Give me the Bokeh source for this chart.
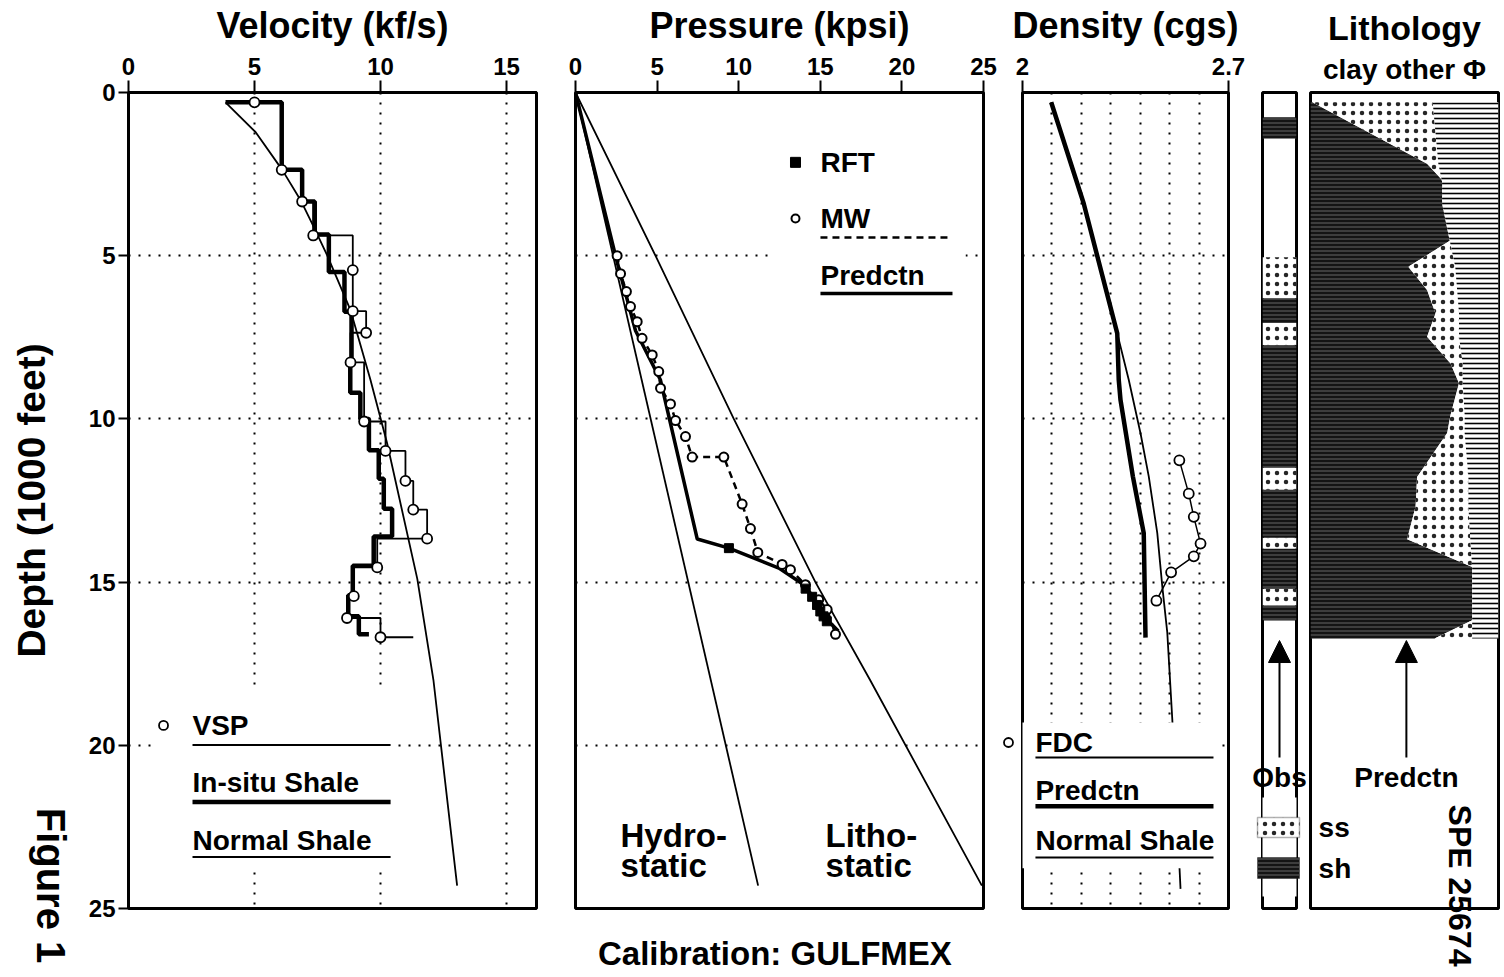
import math
from bokeh.plotting import figure
from bokeh.models import (Range1d, FixedTicker, Grid, Label, BoxAnnotation,
                          Arrow, NormalHead, LinearAxis)
from bokeh.layouts import row, column
from bokeh.embed import file_html
from bokeh.resources import INLINE

FONT = "Liberation Sans"

# ---------------- data (depth in 1000 ft) ----------------
# Velocity panel (kf/s)
normal_vel_depth = [0.3, 1.21, 2.37, 3.3, 4.12, 4.98, 6.67, 8.8, 10.74, 14.9, 18.0, 24.3]
normal_vel = [3.85, 5.04, 6.1, 6.83, 7.35, 7.88, 8.81, 9.6, 10.26, 11.46, 12.1, 13.04]
insitu_start_vel = 3.85
insitu_depth = [0.3, 2.37, 3.34, 4.35, 5.5, 6.72, 8.35, 9.2, 10.0, 10.96, 11.83, 12.75,
                13.6, 14.5, 15.4, 16.05, 16.6]
insitu_vel = [6.08, 6.89, 7.39, 7.95, 8.57, 8.85, 8.8, 9.2, 9.54, 9.93, 10.13, 10.46,
              9.73, 8.9, 8.72, 9.14, 9.54]
vsp_depth = [0.3, 2.37, 3.34, 4.38, 5.44, 6.7, 7.36, 8.27, 10.08, 10.98, 11.9, 12.78,
             13.67, 14.55, 15.43, 16.1, 16.69]
vsp_vel = [5.0, 6.08, 6.89, 7.33, 8.9, 8.9, 9.43, 8.81, 9.35, 10.2, 10.99, 11.3,
           11.85, 9.87, 8.94, 8.67, 10.0]
vsp_tail_vel = 11.3

# Pressure panel (kpsi)
hydro_depth = [0, 24.3]
hydro_p = [0, 11.19]
litho_depth = [0, 5, 10, 15, 18, 24.3]
litho_p = [0, 4.9, 9.7, 14.7, 18.05, 24.9]
pred_p_depth = [0, 5.0, 7.3, 8.8, 13.68, 13.96, 14.57, 15.08, 15.6, 16.15, 16.5]
pred_p = [0, 2.45, 3.68, 5.2, 7.46, 9.4, 12.46, 13.99, 14.8, 15.42, 16.1]
mw_depth = [5.0, 5.55, 6.1, 6.56, 7.02, 7.53, 8.04, 8.55, 9.06, 9.54, 10.05, 10.54,
            11.17, 11.17, 12.61, 13.36, 14.09, 14.46, 14.62, 15.08, 15.54, 15.84, 16.6]
mw_p = [2.55, 2.76, 3.12, 3.37, 3.78, 4.08, 4.7, 5.1, 5.21, 5.82, 6.13, 6.74,
        7.15, 9.09, 10.21, 10.72, 11.17, 12.66, 13.17, 14.09, 14.9, 15.42, 15.93]
rft_depth = [13.96, 15.2, 15.45, 15.7, 15.9, 16.05, 16.2]
rft_p = [9.4, 14.1, 14.5, 14.8, 15.0, 15.2, 15.4]

# Density panel (g/cc)
pred_rho_depth = [0.3, 3.4, 7.38, 8.8, 9.42, 11.76, 13.5, 16.7]
pred_rho = [2.0975, 2.208, 2.322, 2.327, 2.333, 2.375, 2.412, 2.418]
normal_rho_depth = [0.3, 3.4, 7.38, 8.8, 10.44, 11.76, 13.5, 15.13, 16.55, 19.2, 24.4]
normal_rho = [2.0975, 2.208, 2.322, 2.361, 2.401, 2.429, 2.458, 2.475, 2.492, 2.509, 2.537]
fdc_depth = [11.27, 12.29, 13.0, 13.82, 14.21, 14.7, 15.57]
fdc_rho = [2.533, 2.565, 2.582, 2.605, 2.582, 2.505, 2.455]

# Observed lithology column
obs_top = [0.76, 5.05, 6.3, 7.06, 7.74, 11.5, 12.17, 13.64, 13.98, 15.2, 15.72]
obs_bottom = [1.41, 6.3, 7.06, 7.74, 11.5, 12.17, 13.64, 13.98, 15.2, 15.72, 16.18]
obs_lith = ["sh", "ss", "sh", "ss", "sh", "ss", "sh", "ss", "sh", "ss", "sh"]

# Predicted lithology fractions (clay | other | porosity)
lith_depth = [0.3, 2.18, 2.74, 3.4, 4.53, 5.34, 6.05, 6.77, 7.48, 8.3, 8.91, 9.87,
              10.43, 11.78, 12.68, 13.69, 14.54, 16.17, 16.73]
lith_clay = [0.01, 0.62, 0.71, 0.72, 0.745, 0.52, 0.62, 0.665, 0.62, 0.745, 0.79, 0.745,
             0.727, 0.567, 0.559, 0.514, 0.86, 0.86, 0.66]
lith_phi = [0.35, 0.32, 0.30, 0.30, 0.26, 0.23, 0.22, 0.21, 0.21, 0.19, 0.19, 0.18,
            0.18, 0.16, 0.16, 0.15, 0.14, 0.14, 0.14]

vel_ticks = [0, 5, 10, 15]
depth_ticks = [0, 5, 10, 15, 20, 25]
p_ticks = [0, 5, 10, 15, 20, 25]
rho_ticks = [2.0, 2.7]
rho_grid = [2.1, 2.2, 2.3, 2.4, 2.5, 2.6]

# ---------------- layout helpers ----------------
TOP, FRAME_H, BOT = 92, 816, 68
HEIGHT = TOP + FRAME_H + BOT


def make_fig(width, left, right, xr, top_axis=True, left_axis=False):
    p = figure(width=width, height=HEIGHT, x_range=xr, y_range=Range1d(25, 0),
               output_backend="svg", toolbar_location=None,
               x_axis_location="above" if top_axis else None,
               y_axis_location="left" if left_axis else None,
               min_border_left=left, min_border_right=right,
               min_border_top=TOP, min_border_bottom=BOT)
    p.grid.visible = False
    p.outline_line_color = "black"
    p.outline_line_width = 3
    p.background_fill_color = "white"
    p.border_fill_color = "white"
    return p


def style_axis(ax, ticks, tick_out=12, standoff=6):
    ax.ticker = FixedTicker(ticks=ticks)
    ax.major_tick_out = tick_out
    ax.major_tick_in = 0
    ax.minor_tick_out = 0
    ax.minor_tick_in = 0
    ax.major_tick_line_width = 2
    ax.major_tick_line_color = "black"
    ax.axis_line_width = 3
    ax.axis_line_color = "black"
    ax.major_label_text_font = FONT
    ax.major_label_text_font_style = "bold"
    ax.major_label_text_font_size = "24px"
    ax.major_label_text_color = "black"
    ax.major_label_standoff = standoff


def axis_title(ax, text, size="36px", standoff=9):
    ax.axis_label = text
    ax.axis_label_text_font = FONT
    ax.axis_label_text_font_style = "bold"
    ax.axis_label_text_font_size = size
    ax.axis_label_text_color = "black"
    ax.axis_label_standoff = standoff


def bare_axis():
    return LinearAxis(ticker=FixedTicker(ticks=[]), axis_line_color=None,
                      major_tick_line_color=None, minor_tick_line_color=None)


def add_grid(p, dim, ticks):
    p.add_layout(Grid(dimension=dim, ticker=FixedTicker(ticks=ticks),
                      grid_line_color="black", grid_line_dash="2 8",
                      grid_line_width=2))


def txt(p, x, y, s, size="28px", align="left", angle=0.0):
    p.add_layout(Label(x=x, y=y, text=s, text_font=FONT, text_font_size=size,
                       text_font_style="bold", text_align=align,
                       text_baseline="middle", angle=angle, text_color="black"))


def seg(p, x0, x1, y, w, dash="solid"):
    p.add_layout(Arrow(start=None, end=None, x_start=x0, x_end=x1, y_start=y, y_end=y,
                       line_width=w, line_dash=dash, line_color="black"))


def wbox(p, l, r, t, b):
    p.add_layout(BoxAnnotation(left=l, right=r, top=t, bottom=b, fill_color="white",
                               fill_alpha=1.0, line_color=None))


def up_arrow(p, x, y0, y1):
    p.add_layout(Arrow(end=NormalHead(size=22, fill_color="black", line_color="black"),
                       x_start=x, x_end=x, y_start=y0, y_end=y1,
                       line_width=2, line_color="black"))


SH = dict(fill_color="#141414", hatch_pattern="horizontal_line", hatch_color="#7a7a7a",
          hatch_scale=4, hatch_weight=0.8)
SS = dict(fill_color="white", hatch_pattern="dot", hatch_color="black",
          hatch_scale=9, hatch_weight=1, hatch_alpha=0.85)
PHI = dict(fill_color="white", hatch_pattern="horizontal_line", hatch_color="black",
           hatch_scale=5, hatch_weight=1.6)

# ---------------- Velocity ----------------
pv = make_fig(555, 128, 19, Range1d(0, 16.19), top_axis=True, left_axis=True)
style_axis(pv.xaxis[0], vel_ticks)
axis_title(pv.xaxis[0], "Velocity (kf/s)")
ya = pv.yaxis[0]
style_axis(ya, depth_ticks, tick_out=10, standoff=3)
axis_title(ya, "Depth (1000 feet)", "39px", 33)
add_grid(pv, 0, [5, 10, 15])
add_grid(pv, 1, [5, 10, 15, 20])

pv.line(normal_vel, normal_vel_depth, line_color="black", line_width=1.8)
ins_x, ins_y = [insitu_start_vel], [insitu_depth[0]]
for i in range(len(insitu_vel) - 1):
    ins_x += [insitu_vel[i], insitu_vel[i]]
    ins_y += [insitu_depth[i], insitu_depth[i + 1]]
ins_x.append(insitu_vel[-1])
ins_y.append(insitu_depth[-1])
vsp_x, vsp_y = [vsp_vel[0]], [vsp_depth[0]]
for i in range(1, len(vsp_vel)):
    vsp_x += [vsp_vel[i], vsp_vel[i]]
    vsp_y += [vsp_depth[i - 1], vsp_depth[i]]
vsp_x.append(vsp_tail_vel)
vsp_y.append(vsp_depth[-1])
pv.line(vsp_x, vsp_y, line_color="black", line_width=1.8)
pv.line(ins_x, ins_y, line_color="black", line_width=4.5)
pv.scatter(vsp_vel, vsp_depth, marker="circle", size=10, fill_color="white",
           line_color="black", line_width=1.8)

wbox(pv, 1.07, 10.67, 18.32, 23.74)
pv.scatter([1.39], [19.39], marker="circle", size=9, fill_color="white",
           line_color="black", line_width=1.8, level="overlay")
txt(pv, 2.54, 19.39, "VSP")
seg(pv, 2.54, 10.4, 19.99, 2)
txt(pv, 2.54, 21.14, "In-situ Shale")
seg(pv, 2.54, 10.4, 21.74, 4.5)
txt(pv, 2.54, 22.92, "Normal Shale")
seg(pv, 2.54, 10.4, 23.42, 2)

# ---------------- Pressure ----------------
pp = make_fig(447, 20, 19, Range1d(0, 25))
style_axis(pp.xaxis[0], p_ticks)
axis_title(pp.xaxis[0], "Pressure (kpsi)")
cal = bare_axis()
axis_title(cal, "Calibration:  GULFMEX", "33px", 26)
pp.add_layout(cal, "below")
add_grid(pp, 1, [5, 10, 15, 20])
pp.line(hydro_p, hydro_depth, line_color="black", line_width=1.8)
pp.line(litho_p, litho_depth, line_color="black", line_width=1.8)
pp.line(mw_p, mw_depth, line_color="black", line_width=2.5, line_dash="7 5")
pp.line(pred_p, pred_p_depth, line_color="black", line_width=3.5)
pp.scatter(mw_p, mw_depth, marker="circle", size=9, fill_color="white",
           line_color="black", line_width=2)
pp.scatter(rft_p, rft_depth, marker="square", size=9, fill_color="black",
           line_color="black")

wbox(pp, 11.95, 23.9, 1.47, 6.53)
pp.scatter([13.48], [2.14], marker="square", size=10, fill_color="black",
           line_color="black", level="overlay")
txt(pp, 15.01, 2.14, "RFT")
pp.scatter([13.48], [3.86], marker="circle", size=8, fill_color="white",
           line_color="black", line_width=2, level="overlay")
txt(pp, 15.01, 3.86, "MW")
seg(pp, 15.01, 23.1, 4.44, 2.5, "7 5")
txt(pp, 15.01, 5.61, "Predctn")
seg(pp, 15.01, 23.1, 6.16, 3.5)
txt(pp, 2.76, 22.76, "Hydro-", "33px")
txt(pp, 2.76, 23.68, "static", "33px")
txt(pp, 15.32, 22.76, "Litho-", "33px")
txt(pp, 15.32, 23.68, "static", "33px")

# ---------------- Density ----------------
pd_ = make_fig(243, 20, 17, Range1d(2.0, 2.7))
style_axis(pd_.xaxis[0], rho_ticks)
pd_.xaxis[0].major_label_overrides = {2: "2", 2.7: "2.7"}
axis_title(pd_.xaxis[0], "Density (cgs)")
add_grid(pd_, 0, rho_grid)
add_grid(pd_, 1, [5, 10, 15, 20])
pd_.line(normal_rho, normal_rho_depth, line_color="black", line_width=1.8)
pd_.line(pred_rho, pred_rho_depth, line_color="black", line_width=4.5)
pd_.line(fdc_rho, fdc_depth, line_color="black", line_width=1.5)
pd_.scatter(fdc_rho, fdc_depth, marker="circle", size=10, fill_color="white",
            line_color="black", line_width=1.8)

wbox(pd_, 1.925, 2.669, 19.3, 23.77)
txt(pd_, 2.044, 19.91, "FDC")
seg(pd_, 2.044, 2.649, 20.37, 2)
txt(pd_, 2.044, 21.38, "Predctn")
seg(pd_, 2.044, 2.649, 21.87, 4.5)
txt(pd_, 2.044, 22.92, "Normal Shale")
seg(pd_, 2.044, 2.649, 23.44, 2)

# ---------------- Observed lithology ----------------
po = make_fig(58, 17, 7, Range1d(0, 1), top_axis=False)
for kind, style in (("ss", SS), ("sh", SH)):
    idx = [i for i, k in enumerate(obs_lith) if k == kind]
    po.quad(left=0, right=1, top=[obs_top[i] for i in idx],
            bottom=[obs_bottom[i] for i in idx], line_color=None, **style)
wbox(po, -0.6, 1.6, 21.6, 24.63)
up_arrow(po, 0.5, 20.37, 16.79)

# ---------------- Predicted lithology ----------------
pl = make_fig(199, 7, 4, Range1d(0, 1), top_axis=True)
ax1 = pl.xaxis[0]
ax1.ticker = FixedTicker(ticks=[])
ax1.axis_line_color = None
ax1.major_tick_line_color = None
axis_title(ax1, "clay other \u03a6", "28px", 8)
ax2 = bare_axis()
axis_title(ax2, "Lithology", "34px", 4)
pl.add_layout(ax2, "above")
other_right = [1 - f for f in lith_phi]
pl.harea(x1=0, x2=lith_clay, y=lith_depth, **SH)
pl.harea(x1=lith_clay, x2=other_right, y=lith_depth, **SS)
pl.harea(x1=other_right, x2=1, y=lith_depth, **PHI)
up_arrow(pl, 0.51, 20.37, 16.79)
txt(pl, 0.51, 20.99, "Predctn", "28px", "center")
txt(pl, 0.043, 22.52, "ss")
txt(pl, 0.043, 23.77, "sh")

# ---------------- transparent overlay (page pixels) for texts outside the frames ----------------
W_ALL = 555 + 447 + 243 + 58 + 199
ov = figure(width=W_ALL, height=HEIGHT, x_range=Range1d(0, W_ALL),
            y_range=Range1d(HEIGHT, 0), output_backend="svg", toolbar_location=None,
            x_axis_location=None, y_axis_location=None, min_border=0)
ov.grid.visible = False
ov.outline_line_color = None
ov.background_fill_color = None
ov.border_fill_color = None
ov.margin = (-HEIGHT, 0, 0, 0)
txt(ov, 50, 885, "Figure 1", "40px", "center", -math.pi / 2)
txt(ov, 1459, 885, "SPE 25674", "32px", "center", -math.pi / 2)
txt(ov, 1279, 777, "Obs", "28px", "center")
ov.scatter([1008], [742], marker="circle", size=9, fill_color="white",
           line_color="black", line_width=1.8)
ov.add_layout(BoxAnnotation(left=1257, right=1299, top=817, bottom=837,
                            line_color="black", line_width=1.5, fill_alpha=1.0, **SS))
ov.add_layout(BoxAnnotation(left=1257, right=1299, top=857, bottom=878,
                            line_color="black", line_width=1.0, fill_alpha=1.0, **SH))

main = row(pv, pp, pd_, po, pl, spacing=0)
layout = column(main, ov, spacing=0)
open("out.html", "w").write(file_html(layout, INLINE))
